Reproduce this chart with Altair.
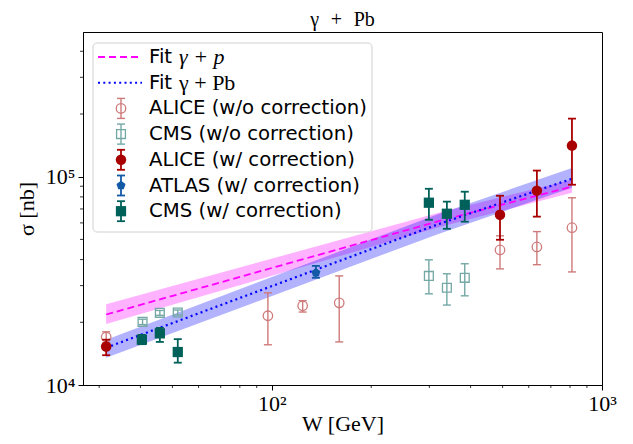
import altair as alt
import pandas as pd

# ---------------- data (W in GeV, sigma in nb) ----------------
alice_wo_W = [31.5, 97.3, 124, 160, 491, 635, 811]
alice_wo_s = [17000, 21500, 24000, 24800, 44500, 46000, 56900]
alice_wo_lo = [15900, 15600, 22400, 16100, 36100, 37800, 34900]
alice_wo_hi = [18000, 27700, 25400, 33400, 52000, 54500, 79200]

cms_wo_W = [40.6, 45.8, 51.9, 299, 339, 384]
cms_wo_s = [20100, 22200, 22300, 33400, 29300, 32700]
cms_wo_lo = [19500, 21600, 21700, 27400, 24200, 26800]
cms_wo_hi = [20700, 22800, 22900, 39900, 34200, 38200]

alice_w_W = [31.5, 491, 635, 811]
alice_w_s = [15300, 65600, 85700, 141000]
alice_w_lo = [13900, 49800, 64300, 91500]
alice_w_hi = [16500, 81000, 107000, 190000]

atlas_w_W = [136]
atlas_w_s = [34600]
atlas_w_lo = [32700]
atlas_w_hi = [37300]

cms_w_W = [40.4, 45.8, 51.9, 299, 339, 384]
cms_w_s = [16500, 17700, 14400, 75000, 66400, 73300]
cms_w_lo = [15700, 16100, 12800, 62100, 56200, 60800]
cms_w_hi = [17400, 18800, 16600, 87500, 75900, 84700]

fit_W = [31.5, 318, 811]
fit_p = [21800, 61000, 89500]
fit_p_lo = [19600, 57000, 83800]
fit_p_hi = [24400, 67000, 96800]
fit_pb = [15100, 59000, 97700]
fit_pb_lo = [13500, 53000, 88500]
fit_pb_hi = [16500, 66000, 110000]

x_minor = [30, 40, 50, 60, 70, 80, 90, 200, 300, 400, 500, 600, 700, 800, 900]
y_minor = [20000, 30000, 40000, 50000, 60000, 70000, 80000, 90000,
           200000, 300000, 400000]

legend_labels = ["ALICE (w/o correction)", "CMS (w/o correction)",
                 "ALICE (w/ correction)", "ATLAS (w/ correction)",
                 "CMS (w/ correction)"]
title_text = "γ\u2002\u200a+\u2002\u200aPb"

# ---------------- styling ----------------
SERIF = "Liberation Serif, DejaVu Serif"
SANS = "DejaVu Sans"
W_PLOT, H_PLOT = 519, 353

C_ALICE = "#a80000"
C_ALICE_L = "#cf7a7a"
C_CMS = "#00605a"
C_CMS_L = "#74a8a5"
C_ATLAS = "#1259a6"
PENTAGON = "M0,-1L0.951,-0.309L0.588,0.809L-0.588,0.809L-0.951,-0.309Z"

xscale = alt.Scale(type="log", domain=[26.8, 1000], nice=False)
yscale = alt.Scale(type="log", domain=[10000, 495000], nice=False)

xaxis = alt.Axis(values=[100, 1000],
                 labelExpr="datum.value == 100 ? '10²' : '10³'",
                 title="W [GeV]", tickSize=5, tickColor="black", tickWidth=1,
                 domainColor="black", labelFont=SERIF, labelFontSize=22,
                 labelColor="black", titleFont=SERIF, titleFontSize=22,
                 titleFontWeight="normal", titleColor="black", grid=False,
                 labelPadding=3, labelFlush=False, labelOverlap=False,
                 titleY=45, titleBaseline="alphabetic")
yaxis = alt.Axis(values=[10000, 100000],
                 labelExpr="datum.value == 10000 ? '10⁴' : '10⁵'",
                 title="σ [nb]", tickSize=5, tickColor="black", tickWidth=1,
                 domainColor="black", labelFont=SERIF, labelFontSize=22,
                 labelColor="black", titleFont=SERIF, titleFontSize=22,
                 titleFontWeight="normal", titleColor="black", grid=False,
                 labelPadding=3, labelFlush=False, labelOverlap=False,
                 titleX=-50, titleY=H_PLOT / 2, titleBaseline="alphabetic")


def X(field):
    return alt.X(field, type="quantitative", scale=xscale, axis=xaxis)


def Y(field):
    return alt.Y(field, type="quantitative", scale=yscale, axis=yaxis)


layers = []

# minor ticks
layers.append(alt.Chart(pd.DataFrame({"v": x_minor})).mark_rule(
    color="black", strokeWidth=0.8).encode(
    x=X("v"), y=alt.value(H_PLOT), y2=alt.value(H_PLOT + 3)))
layers.append(alt.Chart(pd.DataFrame({"v": y_minor})).mark_rule(
    color="black", strokeWidth=0.8).encode(
    y=Y("v"), x=alt.value(-3), x2=alt.value(0)))

# fits
fit_df = pd.DataFrame({"W": fit_W, "p": fit_p, "plo": fit_p_lo, "phi": fit_p_hi,
                       "pb": fit_pb, "pblo": fit_pb_lo, "pbhi": fit_pb_hi})
layers.append(alt.Chart(fit_df).mark_area(color="#ff00ff", opacity=0.3).encode(
    x=X("W"), y=Y("plo"), y2="phi"))
layers.append(alt.Chart(fit_df).mark_area(color="#0000ff", opacity=0.3).encode(
    x=X("W"), y=Y("pblo"), y2="pbhi"))
layers.append(alt.Chart(fit_df).mark_line(
    color="#ff00ff", strokeDash=[7, 4], strokeWidth=1.8).encode(
    x=X("W"), y=Y("p")))
layers.append(alt.Chart(fit_df).mark_line(
    color="#0000ff", strokeDash=[2, 3.3], strokeWidth=2.2).encode(
    x=X("W"), y=Y("pb")))


def series(Ws, ss, lo, hi, color, shape, filled, size, sw):
    df = pd.DataFrame({"W": Ws, "s": ss, "lo": lo, "hi": hi})
    base = alt.Chart(df)
    out = [
        base.mark_rule(color=color, strokeWidth=sw).encode(
            x=X("W"), y=Y("lo"), y2="hi"),
        base.mark_point(shape="stroke", size=64, filled=False, opacity=1,
                        color=color, strokeWidth=sw).encode(x=X("W"), y=Y("lo")),
        base.mark_point(shape="stroke", size=64, filled=False, opacity=1,
                        color=color, strokeWidth=sw).encode(x=X("W"), y=Y("hi")),
    ]
    if filled:
        out.append(base.mark_point(shape=shape, size=size, filled=True,
                                   opacity=1, color=color).encode(
            x=X("W"), y=Y("s")))
    else:
        out.append(base.mark_point(shape=shape, size=size, filled=False,
                                   opacity=1, color=color,
                                   strokeWidth=1.3).encode(
            x=X("W"), y=Y("s")))
    return out


layers += series(alice_wo_W, alice_wo_s, alice_wo_lo, alice_wo_hi,
                 C_ALICE_L, "circle", False, 90, 1.4)
layers += series(cms_wo_W, cms_wo_s, cms_wo_lo, cms_wo_hi,
                 C_CMS_L, "square", False, 78, 1.4)
layers += series(alice_w_W, alice_w_s, alice_w_lo, alice_w_hi,
                 C_ALICE, "circle", True, 110, 1.8)
layers += series(atlas_w_W, atlas_w_s, atlas_w_lo, atlas_w_hi,
                 C_ATLAS, PENTAGON, True, 90, 1.8)
layers += series(cms_w_W, cms_w_s, cms_w_lo, cms_w_hi,
                 C_CMS, "square", True, 105, 1.8)

# ---------------- title (text layer above the plot) ----------------
layers.append(alt.Chart(pd.DataFrame({"label": [title_text]})).mark_text(
    align="center", baseline="alphabetic", font=SERIF, fontSize=20,
    color="black").encode(x=alt.value(W_PLOT / 2), y=alt.value(-6),
                          text="label:N"))

# ---------------- legend (drawn in plot pixel space) ----------------
one = pd.DataFrame({"k": [0]})
layers.append(alt.Chart(one).mark_rect(
    fill="white", fillOpacity=0.85, stroke="#d0d0d0", strokeWidth=1,
    cornerRadius=4).encode(
    x=alt.value(10), x2=alt.value(289), y=alt.value(11), y2=alt.value(200)))

ROW0, DROW = 25, 25.7
HX0, HX1, MX, TX = 15, 59, 38, 66
FS = 19.7

for i, (col, dash, math, style) in enumerate([
        ("#ff00ff", [7, 4], "γ + p", "italic"),
        ("#0000ff", [2, 3.3], "γ + Pb", "normal")]):
    py = ROW0 + DROW * i
    layers.append(alt.Chart(one).mark_rule(
        color=col, strokeDash=dash, strokeWidth=2).encode(
        x=alt.value(HX0), x2=alt.value(HX1), y=alt.value(py)))
    layers.append(alt.Chart(pd.DataFrame({"label": ["Fit"]})).mark_text(
        align="left", baseline="middle", font=SANS, fontSize=FS,
        color="black").encode(x=alt.value(TX), y=alt.value(py),
                              text="label:N"))
    layers.append(alt.Chart(pd.DataFrame({"label": [math]})).mark_text(
        align="left", baseline="middle", font=SERIF, fontSize=22,
        fontStyle=style, color="black").encode(
        x=alt.value(TX + 30), y=alt.value(py), text="label:N"))

styles = [(C_ALICE_L, "circle", False, 90, 1.4),
          (C_CMS_L, "square", False, 78, 1.4),
          (C_ALICE, "circle", True, 110, 1.8),
          (C_ATLAS, PENTAGON, True, 90, 1.8),
          (C_CMS, "square", True, 105, 1.8)]
for j, (lab, (col, shp, filled, size, sw)) in enumerate(zip(legend_labels, styles)):
    py = ROW0 + DROW * (j + 2)
    layers.append(alt.Chart(one).mark_rule(color=col, strokeWidth=sw).encode(
        x=alt.value(MX), y=alt.value(py - 10), y2=alt.value(py + 10)))
    for dy in (-10, 10):
        layers.append(alt.Chart(one).mark_rule(color=col, strokeWidth=sw).encode(
            x=alt.value(MX - 4), x2=alt.value(MX + 4), y=alt.value(py + dy)))
    if filled:
        mk = alt.Chart(one).mark_point(shape=shp, size=size, filled=True,
                                       opacity=1, color=col)
    else:
        mk = alt.Chart(one).mark_point(shape=shp, size=size, filled=False,
                                       opacity=1, color=col, strokeWidth=1.3)
    layers.append(mk.encode(x=alt.value(MX), y=alt.value(py)))
    layers.append(alt.Chart(pd.DataFrame({"label": [lab]})).mark_text(
        align="left", baseline="middle", font=SANS, fontSize=FS,
        color="black").encode(x=alt.value(TX), y=alt.value(py),
                              text="label:N"))

chart = alt.layer(*layers).properties(
    width=W_PLOT, height=H_PLOT,
    padding={"left": 75, "top": 24, "right": 23, "bottom": 51},
    autosize=alt.AutoSizeParams(type="none"),
).configure_view(stroke="black", strokeWidth=1)

chart.save("out.html", embed_options={"renderer": "svg", "actions": False})
